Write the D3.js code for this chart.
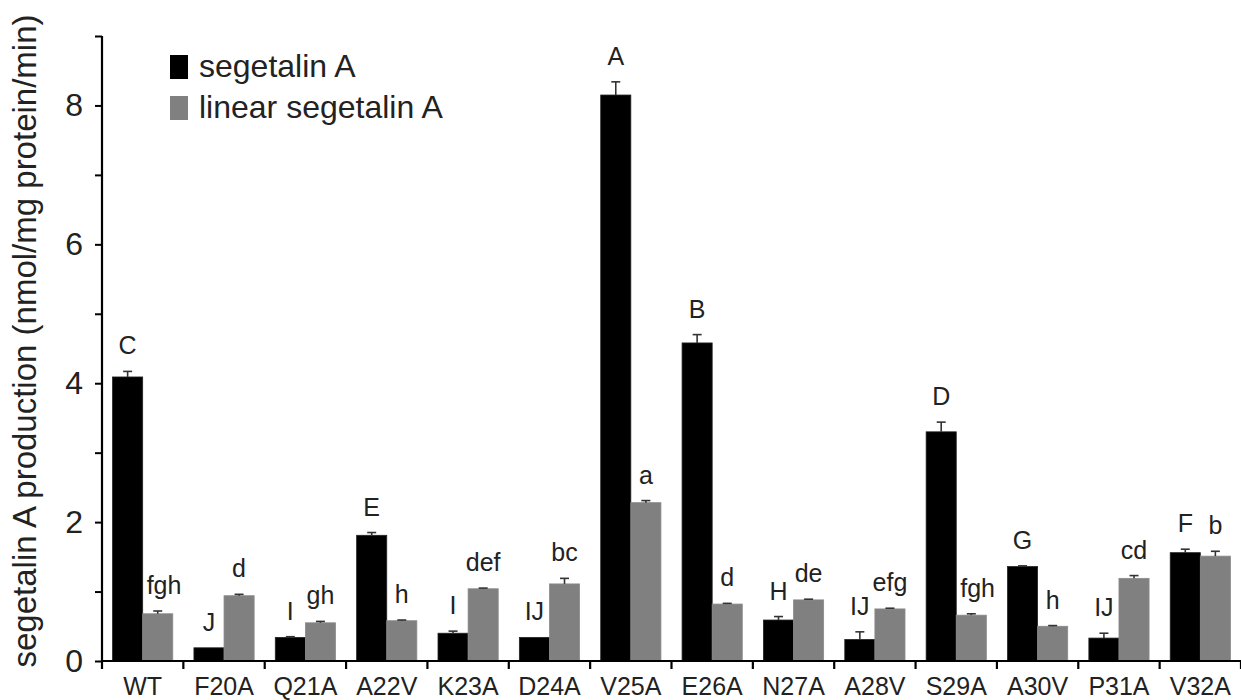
<!DOCTYPE html>
<html>
<head>
<meta charset="utf-8">
<script src="https://cdn.jsdelivr.net/npm/d3@7"></script>
<style>
  html, body { margin: 0; padding: 0; background: #fff; }
  svg { display: block; font-family: Arial, "Liberation Sans", sans-serif; }
</style>
</head>
<body>
<svg id="chart" width="1241" height="700"></svg>
<script>
const categories = ["WT","F20A","Q21A","A22V","K23A","D24A","V25A","E26A","N27A","A28V","S29A","A30V","P31A","V32A"];
const seriesNames = ["segetalin A", "linear segetalin A"];
const cyclicValues = [4.09,0.19,0.34,1.81,0.40,0.34,8.15,4.58,0.59,0.31,3.30,1.36,0.33,1.56];
const cyclicErrors = [0.08,0.0,0.01,0.04,0.03,0.0,0.19,0.12,0.05,0.11,0.14,0.01,0.07,0.05];
const linearValues = [0.68,0.94,0.55,0.58,1.04,1.11,2.28,0.82,0.88,0.75,0.66,0.50,1.19,1.51];
const linearErrors = [0.04,0.02,0.02,0.01,0.01,0.08,0.03,0.01,0.01,0.01,0.02,0.01,0.04,0.07];
const cyclicLetters = ["C","J","I","E","I","IJ","A","B","H","IJ","D","G","IJ","F"];
const linearLetters = ["fgh","d","gh","h","def","bc","a","d","de","efg","fgh","h","cd","b"];
const yTicks = [0,1,2,3,4,5,6,7,8,9];
const yTitle = "segetalin A production (nmol/mg protein/min)";

const colors = ["#000000", "#808080"];
const svg = d3.select("#chart");
const mLeft = 102, mRight = 1241, mTop = 36, mBottom = 661;

const x0 = d3.scaleBand().domain(categories).range([mLeft, mRight]).paddingInner(0.26).paddingOuter(0.13);
const x1 = d3.scaleBand().domain(seriesNames).range([0, x0.bandwidth()]).padding(0);
const y = d3.scaleLinear().domain([0, 9]).range([mBottom, mTop]);

const rows = categories.map((c, i) => ({
  cat: c,
  series: [
    {name: seriesNames[0], v: cyclicValues[i], e: cyclicErrors[i], letter: cyclicLetters[i], color: colors[0]},
    {name: seriesNames[1], v: linearValues[i], e: linearErrors[i], letter: linearLetters[i], color: colors[1]}
  ]
}));

const groups = svg.append("g").selectAll("g").data(rows).join("g")
  .attr("transform", d => `translate(${x0(d.cat)},0)`);

groups.selectAll("rect").data(d => d.series).join("rect")
  .attr("x", d => x1(d.name))
  .attr("y", d => y(d.v))
  .attr("width", x1.bandwidth())
  .attr("height", d => y(0) - y(d.v))
  .attr("fill", d => d.color)
  .attr("stroke", d => d.color === "#000000" ? "#222" : "#8a8a8a")
  .attr("stroke-width", 0.8);

// error bars
const eb = groups.selectAll("g.err").data(d => d.series.filter(s => s.e > 0)).join("g").attr("class", "err")
  .attr("stroke", "#333").attr("stroke-width", 1.6);
eb.append("line")
  .attr("x1", d => x1(d.name) + x1.bandwidth()/2).attr("x2", d => x1(d.name) + x1.bandwidth()/2)
  .attr("y1", d => y(d.v)).attr("y2", d => y(d.v + d.e));
eb.append("line")
  .attr("x1", d => x1(d.name) + x1.bandwidth()/2 - 4.5).attr("x2", d => x1(d.name) + x1.bandwidth()/2 + 4.5)
  .attr("y1", d => y(d.v + d.e)).attr("y2", d => y(d.v + d.e));

// letters (nudge right when a label would run into the taller neighbouring bar)
const letterGap = 17;
groups.each(function(row) {
  const g = d3.select(this);
  row.series.forEach((s, si) => {
    const cx = x1(s.name) + x1.bandwidth() / 2;
    const baseY = y(s.v + s.e) - letterGap;
    const t = g.append("text")
      .attr("x", cx).attr("y", baseY)
      .attr("text-anchor", "middle")
      .attr("font-size", 25)
      .attr("fill", "#222")
      .text(s.letter);
    if (si === 1) {
      const other = row.series[0];
      const w = t.node().getComputedTextLength();
      const leftEdge = cx - w / 2;
      const barEdge = x1(s.name);
      if (y(other.v) < baseY && leftEdge < barEdge + 4) {
        t.attr("x", cx + (barEdge + 4 - leftEdge));
      }
    }
  });
});

// y axis
const yAxis = svg.append("g").attr("transform", `translate(${mLeft},0)`)
  .call(d3.axisLeft(y).tickValues(yTicks).tickSize(7).tickPadding(12)
    .tickFormat(d => (d % 2 === 0 && d < 9) ? d : ""));
yAxis.select(".domain").attr("stroke", "#000").attr("stroke-width", 2.2).attr("d", `M0,${mTop}V${mBottom}`);
yAxis.selectAll(".tick line").attr("stroke", "#000").attr("stroke-width", 2);
yAxis.selectAll(".tick text").attr("font-size", 32).attr("fill", "#222").attr("font-family", "Arial, 'Liberation Sans', sans-serif");

// x axis
const xAxis = svg.append("g").attr("transform", `translate(0,${mBottom})`)
  .call(d3.axisBottom(x0).tickSize(0).tickPadding(16));
xAxis.select(".domain").attr("stroke", "#000").attr("stroke-width", 2.2).attr("d", `M${mLeft},0H${mRight}`);
xAxis.selectAll(".tick text").attr("font-size", 25).attr("fill", "#222").attr("font-family", "Arial, 'Liberation Sans', sans-serif");
const bounds = d3.range(categories.length + 1).map(i => mLeft + i * x0.step());
xAxis.selectAll("line.bound").data(bounds).join("line").attr("class", "bound")
  .attr("x1", d => d).attr("x2", d => d).attr("y1", 0).attr("y2", 8)
  .attr("stroke", "#000").attr("stroke-width", 2.2);

// y title
svg.append("text")
  .attr("transform", `translate(36,341) rotate(-90)`)
  .attr("text-anchor", "middle")
  .attr("font-size", 33)
  .attr("fill", "#222")
  .text(yTitle);

// legend
const legend = svg.append("g").selectAll("g").data(seriesNames).join("g")
  .attr("transform", (d, i) => `translate(170,${55 + i * 41})`);
legend.append("rect").attr("width", 18).attr("height", 24).attr("fill", (d, i) => colors[i]);
legend.append("text").attr("x", 29).attr("y", 22).attr("font-size", 32).attr("fill", "#222").text(d => d);
</script>
</body>
</html>
